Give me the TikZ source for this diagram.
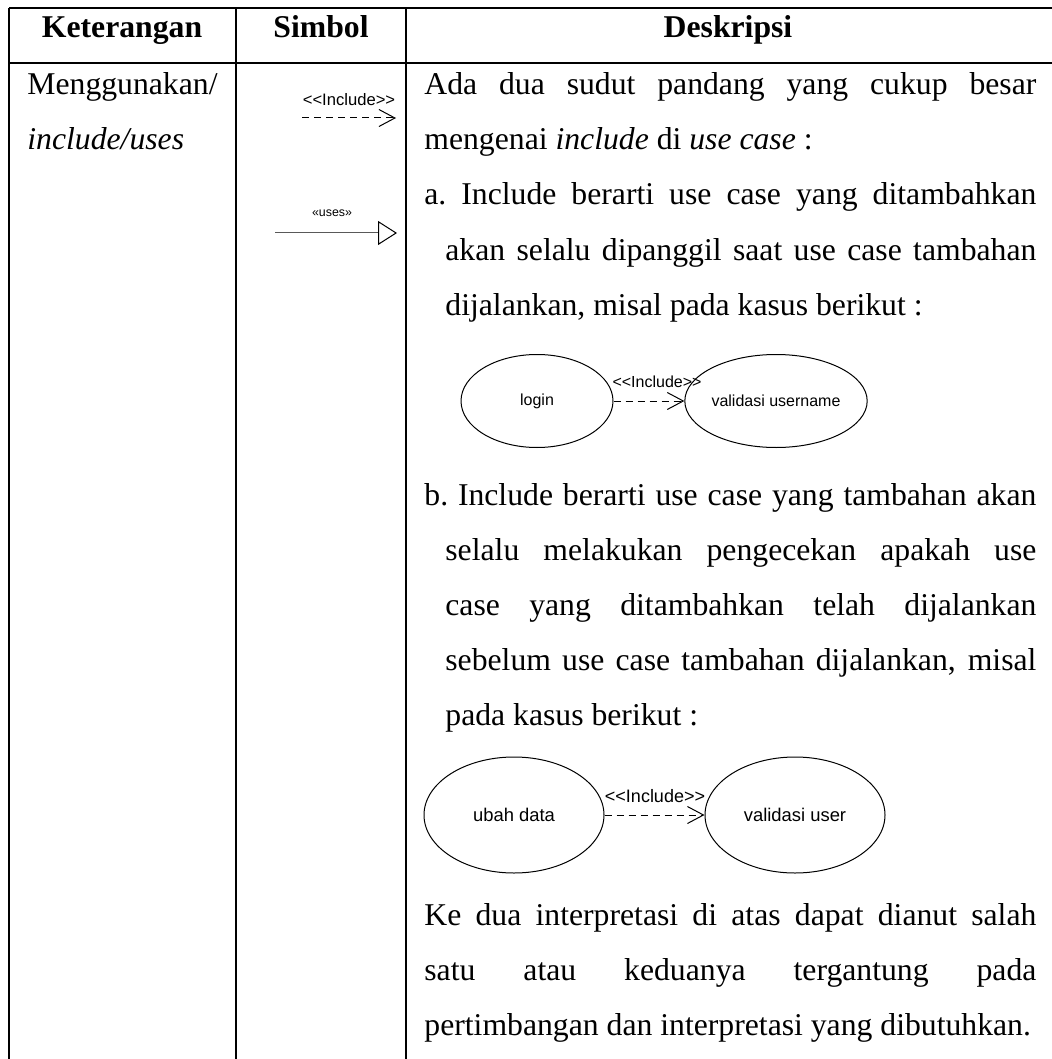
\documentclass[tikz,border=0pt]{standalone}
\usepackage{fontspec}
\setmainfont{Liberation Serif}
\setsansfont{Liberation Sans}
\usetikzlibrary{shapes.geometric,arrows.meta}

% justified lines of the description column
\newcommand{\fullline}[1]{\makebox[306pt][s]{#1}}
\newcommand{\hangline}[1]{\makebox[295.5pt][s]{#1}}

\begin{document}
\begin{tikzpicture}[x=0.5pt, y=-0.5pt,
  txt/.style={anchor=base west, inner sep=0pt, font=\fontsize{15.85pt}{19pt}\selectfont},
  hd/.style={anchor=base, inner sep=0pt, font=\bfseries\fontsize{15.85pt}{19pt}\selectfont},
  rule/.style={line width=1pt},
  usecase/.style={ellipse, draw, line width=0.5pt, inner sep=0pt},
  lbl/.style={anchor=base, inner sep=0pt, font=\sffamily\fontsize{8pt}{9pt}\selectfont},
  dep/.style={line width=0.5pt, dash pattern=on 3.5pt off 2.5pt, -{Straight Barb[length=8pt, width=8.5pt]}},
  gen/.style={line width=0.5pt, draw=black!65, -{Triangle[open, length=9.5pt, width=12pt, color=black]}}]
  \useasboundingbox (0,0) rectangle (1052,1059);

  % table
  \draw[rule] (9,8) -- (1052,8);
  \draw[rule] (9,63) -- (1052,63);
  \draw[rule] (9,8) -- (9,1059);
  \draw[rule] (236,8) -- (236,1059);
  \draw[rule] (406,8) -- (406,1059);

  \node[hd] (hket) at (122,38) {Keterangan};
  \node[hd] (hsim) at (321,38) {Simbol};
  \node[hd] (hdes) at (728,38) {Deskripsi};

  \node[txt] (ket1) at (27,95) {Menggunakan/};
  \node[txt] (ket2) at (27,150) {\textit{include/uses}};

  % symbols
  \coordinate (inca) at (302,118);
  \coordinate (incb) at (396,118);
  \draw[dep] (inca) -- (incb);
  \node[lbl, font=\sffamily\fontsize{8.3pt}{9pt}\selectfont] (inclbl) at (349,106) {<{}<Include>{}>};
  \coordinate (usea) at (275,233);
  \coordinate (useb) at (397,233);
  \draw[gen] (usea) -- (useb);
  \node[lbl, font=\sffamily\fontsize{6.2pt}{7pt}\selectfont] (useslbl) at (332,217) {«uses»};

  % description
  \node[txt] (d1) at (424,95) {\fullline{Ada dua sudut pandang yang cukup besar}};
  \node[txt] (d2) at (424,150) {mengenai \textit{include} di \textit{use case} :};
  \node[txt] (d3) at (424,205) {\fullline{a.\ Include berarti use case yang ditambahkan}};
  \node[txt] (d4) at (445,260) {\hangline{akan selalu dipanggil saat use case tambahan}};
  \node[txt] (d5) at (445,315) {dijalankan, misal pada kasus berikut :};

  \node[usecase, minimum width=76pt, minimum height=46.5pt, font=\sffamily\fontsize{8pt}{9pt}\selectfont] (login) at (537,401) {login};
  \node[usecase, minimum width=76pt, minimum height=46.5pt, font=\sffamily\fontsize{8pt}{9pt}\selectfont] (valname) at (776,401) {validasi username};
  \draw[dep] (login) -- (valname);
  \node[lbl] (incl1) at (657,387) {<{}<Include>{}>};

  \node[txt] (d6) at (424,505) {\fullline{b.\ Include berarti use case yang tambahan akan}};
  \node[txt] (d7) at (445,560) {\hangline{selalu melakukan pengecekan apakah use}};
  \node[txt] (d8) at (445,615) {\hangline{case yang ditambahkan telah dijalankan}};
  \node[txt] (d9) at (445,670) {\hangline{sebelum use case tambahan dijalankan, misal}};
  \node[txt] (d10) at (445,725) {pada kasus berikut :};

  \node[usecase, minimum width=90pt, minimum height=58pt, font=\sffamily\fontsize{9.2pt}{10pt}\selectfont] (ubah) at (514,815) {ubah data};
  \node[usecase, minimum width=90pt, minimum height=58pt, font=\sffamily\fontsize{9.2pt}{10pt}\selectfont] (valuser) at (795,815) {validasi user};
  \draw[dep] (ubah) -- (valuser);
  \node[lbl, font=\sffamily\fontsize{9pt}{10pt}\selectfont] (incl2) at (655,802) {<{}<Include>{}>};

  \node[txt] (d11) at (424,925) {\fullline{Ke dua interpretasi di atas dapat dianut salah}};
  \node[txt] (d12) at (424,980) {\fullline{satu atau keduanya tergantung pada}};
  \node[txt] (d13) at (424,1035) {pertimbangan dan interpretasi yang dibutuhkan.};
\end{tikzpicture}
\end{document}
